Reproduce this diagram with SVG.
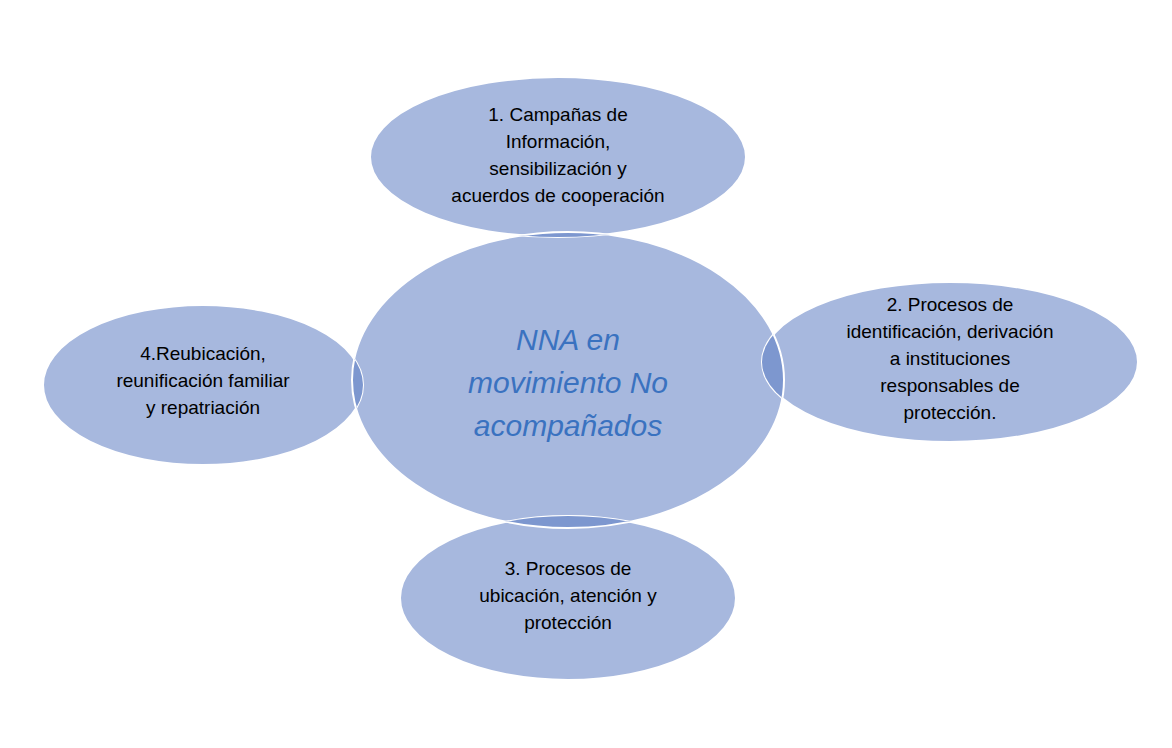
<svg xmlns="http://www.w3.org/2000/svg" width="1172" height="748" viewBox="0 0 1172 748">
<style>
.e{fill:#a7b8de;stroke:#fff;stroke-width:2}
.o{fill:#7d97cf;stroke:#fff;stroke-width:2}
.t{font-family:"Liberation Sans",Arial,sans-serif;font-size:19px;fill:#000;text-anchor:middle}
.c{font-family:"Liberation Sans",Arial,sans-serif;font-size:30px;font-style:italic;fill:#3a72c0;text-anchor:middle}
</style>
<defs>
<clipPath id="ct"><ellipse cx="558" cy="157" rx="188" ry="80"/></clipPath>
<clipPath id="cr"><ellipse cx="950" cy="362" rx="188" ry="80"/></clipPath>
<clipPath id="cl"><ellipse cx="203" cy="385" rx="160" ry="80"/></clipPath>
<clipPath id="cb"><ellipse cx="568" cy="598" rx="168" ry="82"/></clipPath>
</defs>
<rect width="1172" height="748" fill="#fff"/>
<g id="center"><ellipse class="e" cx="568" cy="380" rx="216" ry="148"/>
<text class="c" x="568" y="350">NNA en</text><text class="c" x="568" y="393">movimiento No</text><text class="c" x="568" y="436">acompañados</text></g>
<g id="n1"><ellipse class="e" cx="558" cy="157" rx="188" ry="80"/>
<ellipse class="o" clip-path="url(#ct)" cx="568" cy="380" rx="216" ry="148"/>
<text class="t" x="558" y="121">1. Campañas de</text><text class="t" x="558" y="148">Información,</text><text class="t" x="558" y="175">sensibilización  y</text><text class="t" x="558" y="202">acuerdos de cooperación</text></g>
<g id="n2"><ellipse class="e" cx="950" cy="362" rx="188" ry="80"/>
<ellipse class="o" clip-path="url(#cr)" cx="568" cy="380" rx="216" ry="148"/>
<text class="t" x="950" y="311">2. Procesos de</text><text class="t" x="950" y="338">identificación, derivación</text><text class="t" x="950" y="365">a instituciones</text><text class="t" x="950" y="392">responsables de</text><text class="t" x="950" y="419">protección.</text></g>
<g id="n3"><ellipse class="e" cx="568" cy="598" rx="168" ry="82"/>
<ellipse class="o" clip-path="url(#cb)" cx="568" cy="380" rx="216" ry="148"/>
<text class="t" x="568" y="575">3. Procesos de</text><text class="t" x="568" y="602">ubicación, atención y</text><text class="t" x="568" y="629">protección</text></g>
<g id="n4"><ellipse class="e" cx="203" cy="385" rx="160" ry="80"/>
<ellipse class="o" clip-path="url(#cl)" cx="568" cy="380" rx="216" ry="148"/>
<text class="t" x="203" y="360">4.Reubicación,</text><text class="t" x="203" y="387">reunificación familiar</text><text class="t" x="203" y="414">y repatriación</text></g>
<g id="connectors"/>
</svg>
